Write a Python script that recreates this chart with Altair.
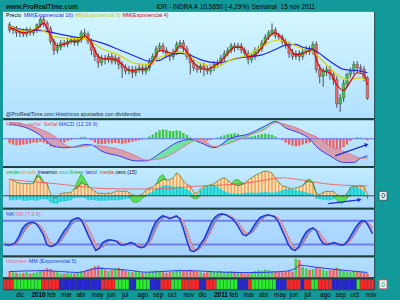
import altair as alt
import pandas as pd

# ---------------- data (weekly) ----------------
FIRST_WEEK = "2009-11-09 12:00"   # centre of first weekly bar
N_WEEKS = 106

opens = [15.2, 14.8, 14.9, 14.6, 14.7, 14.5, 14.8, 14.6, 14.8, 15.2,
         15.6, 15.3, 14.9, 14.0, 13.4, 13.6, 13.9, 13.8, 14.0, 14.1,
         13.9, 14.1, 14.6, 14.5, 14.0, 13.4, 13.0, 12.6, 12.9, 12.8,
         13.0, 12.7, 12.9, 12.5, 12.3, 12.1, 12.2, 12.0, 12.2, 12.3,
         12.1, 12.3, 12.7, 13.0, 13.5, 13.7, 13.4, 13.1, 13.0, 13.3,
         13.8, 13.9, 13.5, 13.0, 12.6, 12.3, 12.2, 12.4, 12.2, 12.1,
         12.3, 12.5, 12.6, 12.9, 13.2, 13.4, 13.7, 13.6, 13.7, 13.4,
         13.2, 12.8, 13.0, 13.4, 13.5, 13.9, 14.3, 14.6, 14.8, 14.4,
         14.3, 14.0, 13.8, 13.2, 13.0, 13.2, 13.0, 13.3, 13.5, 13.3,
         13.8, 12.2, 11.8, 12.1, 12.2, 11.9, 11.6, 10.3, 10.6, 11.4,
         11.9, 12.1, 12.5, 12.3, 12.2, 11.7]
highs = [15.4, 15.1, 15.1, 14.9, 14.9, 15.0, 15.0, 14.9, 15.3, 15.8,
         15.9, 15.5, 15.1, 14.2, 13.9, 14.1, 14.1, 14.2, 14.3, 14.3,
         14.3, 14.8, 14.9, 14.7, 14.2, 13.6, 13.2, 13.1, 13.1, 13.2,
         13.2, 13.1, 13.0, 12.7, 12.5, 12.4, 12.4, 12.4, 12.5, 12.5,
         12.5, 12.9, 13.2, 13.7, 13.9, 13.9, 13.6, 13.3, 13.5, 14.0,
         14.1, 14.1, 13.7, 13.2, 12.8, 12.5, 12.6, 12.6, 12.4, 12.5,
         12.7, 12.8, 13.1, 13.4, 13.6, 13.9, 13.9, 13.9, 13.9, 13.6,
         13.4, 13.2, 13.6, 13.7, 14.1, 14.5, 14.8, 15.3, 15.0, 14.6,
         14.5, 14.2, 14.0, 13.5, 13.4, 13.4, 13.5, 13.7, 13.7, 14.0,
         14.0, 12.5, 12.3, 12.4, 12.4, 12.1, 11.8, 10.8, 11.6, 12.0,
         12.3, 12.7, 12.7, 12.5, 12.4, 11.8]
lows = [14.6, 14.5, 14.3, 14.3, 14.3, 14.3, 14.4, 14.4, 14.6, 15.0,
        15.0, 14.7, 13.8, 13.1, 13.2, 13.4, 13.6, 13.6, 13.8, 13.7,
        13.7, 13.9, 14.2, 13.8, 13.1, 12.7, 12.3, 12.4, 12.5, 12.6,
        12.5, 12.5, 12.2, 11.7, 11.9, 11.9, 11.7, 11.8, 12.0, 11.9,
        11.9, 12.1, 12.5, 12.8, 13.3, 13.2, 12.9, 12.7, 12.8, 13.1,
        13.5, 13.3, 12.8, 11.9, 12.1, 12.0, 12.0, 11.8, 11.9, 11.9,
        12.1, 12.3, 12.4, 12.7, 13.0, 13.2, 13.3, 13.4, 13.2, 13.0,
        12.5, 12.6, 12.8, 13.2, 13.3, 13.7, 14.1, 14.4, 14.2, 14.1,
        13.8, 13.5, 12.9, 12.8, 12.8, 12.7, 12.8, 13.1, 13.1, 13.1,
        12.0, 11.4, 11.2, 11.8, 11.6, 11.3, 10.1, 9.9, 10.4, 11.2,
        11.7, 11.9, 12.0, 12.0, 11.5, 10.5]
closes = [14.8, 14.9, 14.6, 14.7, 14.5, 14.8, 14.6, 14.8, 15.2, 15.6,
          15.3, 14.9, 14.0, 13.4, 13.6, 13.9, 13.8, 14.0, 14.1, 13.9,
          14.1, 14.6, 14.5, 14.0, 13.4, 13.0, 12.6, 12.9, 12.8, 13.0,
          12.7, 12.9, 12.5, 12.3, 12.1, 12.2, 12.0, 12.2, 12.3, 12.1,
          12.3, 12.7, 13.0, 13.5, 13.7, 13.4, 13.1, 13.0, 13.3, 13.8,
          13.9, 13.5, 13.0, 12.6, 12.3, 12.2, 12.4, 12.2, 12.1, 12.3,
          12.5, 12.6, 12.9, 13.2, 13.4, 13.7, 13.6, 13.7, 13.4, 13.2,
          12.8, 13.0, 13.4, 13.5, 13.9, 14.3, 14.6, 14.8, 14.4, 14.3,
          14.0, 13.8, 13.2, 13.0, 13.2, 13.0, 13.3, 13.5, 13.3, 13.8,
          12.2, 11.8, 12.1, 12.2, 11.9, 11.6, 10.3, 10.6, 11.4, 11.9,
          12.1, 12.5, 12.3, 12.2, 11.7, 10.585]

ema16_weeks = [0, 5, 8, 13, 18, 22, 27, 32, 37, 41, 44, 46, 50, 52, 56, 61, 67, 74,
               78, 81, 84, 86, 89, 94, 98, 103, 105]
ema16_vals = [15.1, 14.8, 14.8, 14.6, 14.35, 14.2, 13.9, 13.45, 13.0, 12.7, 12.75, 13.0,
              13.2, 13.15, 12.8, 12.6, 12.9, 13.1, 13.45, 13.75, 13.8, 13.6, 13.45,
              12.7, 12.2, 12.1, 12.0]
ema9_weeks = [0, 5, 8, 13, 18, 22, 27, 32, 37, 41, 43, 46, 50, 53, 56, 61, 65, 70, 75,
              79, 82, 86, 89, 92, 96, 99, 103, 105]
ema9_vals = [15.1, 14.7, 14.9, 14.35, 14.2, 14.2, 13.5, 13.1, 12.55, 12.5, 12.8, 13.1,
             13.3, 13.0, 12.55, 12.4, 12.8, 13.1, 13.8, 14.1, 13.9, 13.5, 13.3, 12.7,
             11.9, 11.6, 11.7, 11.5]
ema4_weeks = [0, 2, 4, 6, 8, 10, 12, 14, 16, 18, 20, 22, 24, 26, 28, 30, 32, 34, 36,
              38, 40, 42, 44, 46, 48, 50, 52, 54, 56, 58, 60, 62, 64, 66, 68, 70, 72,
              74, 76, 78, 80, 82, 84, 86, 88, 89, 90, 92, 94, 96, 98, 100, 102, 104, 105]
ema4_vals = [15.0, 14.8, 14.6, 14.7, 14.9, 15.3, 14.4, 13.7, 13.8, 14.0, 14.0, 14.4,
             13.9, 13.0, 12.85, 12.85, 12.7, 12.3, 12.1, 12.2, 12.2, 12.7, 13.4, 13.3,
             13.2, 13.7, 13.3, 12.6, 12.3, 12.2, 12.4, 12.7, 13.2, 13.6, 13.6, 13.0,
             13.1, 13.6, 14.3, 14.6, 14.2, 13.6, 13.1, 13.2, 13.4, 13.5, 12.8, 12.1,
             12.0, 11.3, 11.0, 11.5, 12.0, 11.9, 11.3]

macd_hist = [-0.12, -0.15, -0.17, -0.16, -0.15, -0.14, -0.12, -0.10, -0.10, -0.08,
             -0.10, -0.14, -0.20, -0.22, -0.20, -0.15, -0.10, -0.06, -0.03, -0.01,
             0.02, 0.04, 0.05, 0.02, -0.04, -0.10, -0.14, -0.14, -0.13, -0.12,
             -0.12, -0.11, -0.12, -0.13, -0.12, -0.10, -0.08, -0.06, -0.04, -0.02,
             0.02, 0.06, 0.11, 0.17, 0.22, 0.24, 0.23, 0.20, 0.20, 0.22,
             0.20, 0.15, 0.10, 0.04, -0.02, -0.05, -0.06, -0.07, -0.05, -0.03,
             0.00, 0.03, 0.06, 0.09, 0.12, 0.13, 0.14, 0.13, 0.10, 0.07,
             0.05, 0.06, 0.08, 0.10, 0.12, 0.13, 0.12, 0.10, 0.06, 0.01,
             -0.04, -0.10, -0.15, -0.18, -0.20, -0.18, -0.15, -0.12, -0.10, -0.08,
             -0.15, -0.22, -0.24, -0.22, -0.20, -0.25, -0.28, -0.27, -0.22, -0.15,
             -0.06, 0.02, 0.04, 0.03, -0.01, -0.04]
macd_weeks = [0, 5, 8, 13, 16, 19, 22, 24, 27, 32, 37, 40, 45, 49, 53, 56, 60, 65, 70,
              75, 78, 81, 85, 88, 90, 94, 98, 101, 103, 105]
macd_line = [0.37, 0.28, 0.15, -0.19, -0.23, -0.21, -0.15, -0.16, -0.32, -0.44, -0.57,
             -0.57, -0.32, -0.10, -0.02, -0.10, -0.23, 0.02, 0.12, 0.33, 0.45, 0.28,
             0.15, 0.00, -0.20, -0.44, -0.61, -0.61, -0.50, -0.44]
macd_signal = [0.42, 0.36, 0.28, 0.07, -0.15, -0.22, -0.20, -0.17, -0.19, -0.27, -0.44,
               -0.55, -0.50, -0.32, -0.10, 0.00, -0.20, -0.10, 0.08, 0.25, 0.41, 0.37,
               0.25, 0.12, 0.05, -0.19, -0.32, -0.44, -0.50, -0.50]
macd_arrow_weeks = [95.5, 104.6]
macd_arrow_vals = [-0.44, -0.16]

osc_vals = [75, 70, 59, 57, 53, 55, 53, 55, 88, 80,
            60, 55, 5, -10, -5, 10, 13, 13, 15, 30,
            35, 60, 50, 47, 30, 20, 10, 12, 8, 13,
            10, 20, 22, 18, 22, 15, 5, 0, 2, 8,
            25, 35, 38, 53, 60, 75, 70, 72, 80, 102,
            90, 66, 50, 44, 15, 10, 30, 40, 44, 50,
            53, 66, 75, 80, 70, 55, 50, 45, 50, 55,
            70, 80, 90, 97, 105, 110, 108, 100, 80, 60,
            44, 40, 35, 30, 35, 40, 45, 60, 66, 55,
            9, 5, 15, 20, 18, 20, 5, 0, -5, 10,
            35, 44, 40, 44, 40, 5]
cyan_vals = [-20, -20, -18, -15, -22, -22, -20, -20, -22, -15,
             -15, -15, -30, -35, -35, -25, -25, -22, -20, -10,
             -10, -8, -10, -18, -18, -20, -22, -22, -22, -20,
             -20, -20, -20, -18, -15, -12, -10, -10, -8, -5,
             5, 10, 20, 30, 40, 45, 48, 45, 40, 40,
             40, 35, 30, 20, 5, 0, 25, 35, 40, 45,
             48, 40, 30, 20, 15, 10, 10, 8, 10, 12,
             15, 15, 12, 15, 15, 18, 15, 15, 15, 20,
             25, 30, 30, 28, 25, 22, 20, 15, 12, 10,
             -13, -15, -18, -20, -20, -15, -10, -5, -5, 10,
             40, 44, 40, 30, 20, -15]
media_weeks = [0, 14, 28, 42, 56, 65, 72, 80, 86, 92, 98, 105]
media_vals = [72, 53, 32, 30, 44, 50, 62, 80, 70, 55, 47, 44]
green_group = ["a"] * 4 + ["b"] * 5 + ["c"] * 6 + ["d"] * 4 + ["e"] * 4 + ["f"] * 5 + ["g"] * 5 + ["h"] * 6
green_weeks = [7, 8, 9, 10, 19, 20, 21, 22, 23, 35, 36, 37, 38, 39, 40, 43, 44, 45, 46,
               53, 54, 55, 56, 65, 66, 67, 68, 69, 86, 87, 88, 89, 90, 95, 96, 97, 98, 99, 100]
green_lo = [55, 88, 80, 60, 30, 35, 60, 50, 47, 0, -25, -31, -25, -10, 0, 53, 60, 75, 70,
            0, -13, -13, 0, 55, 50, 45, 50, 55, 45, 60, 66, 55, 9, 0, -20, -35, -30, -10, 0]
green_hi = [55, 95, 88, 60, 30, 70, 97, 75, 47, 0, 0, 0, 0, 0, 0, 53, 85, 95, 70,
            0, 0, 0, 0, 55, 70, 72, 60, 55, 45, 68, 75, 60, 9, 0, 0, 0, 0, 0, 0]
osc_arrow_weeks = [93.5, 102.5]
osc_arrow_vals = [-35, -18]

stoch_k = [20, 18, 20, 25, 40, 60, 70, 75, 76, 72,
           60, 45, 20, 15, 17, 25, 40, 55, 65, 80,
           85, 87, 80, 60, 40, 22, 5, 10, 25, 30,
           32, 30, 28, 20, 18, 22, 25, 22, 15, 12,
           15, 30, 55, 75, 85, 92, 90, 85, 88, 92,
           85, 60, 30, 5, 2, 8, 22, 35, 55, 75,
           88, 95, 97, 95, 90, 85, 75, 60, 45, 42,
           50, 65, 78, 88, 92, 95, 93, 90, 80, 60,
           40, 20, 8, 5, 15, 35, 50, 58, 62, 55,
           35, 22, 20, 22, 25, 22, 18, 20, 30, 45,
           60, 72, 80, 78, 65, 47]
stoch_d = [25, 22, 19, 21, 28, 42, 57, 68, 74, 74,
           69, 59, 42, 27, 17, 19, 27, 40, 53, 67,
           77, 84, 84, 76, 60, 41, 22, 12, 13, 22,
           29, 31, 30, 26, 22, 20, 22, 23, 21, 17,
           14, 19, 33, 53, 72, 84, 89, 89, 88, 88,
           88, 79, 58, 32, 12, 5, 11, 22, 37, 55,
           73, 86, 93, 96, 94, 90, 83, 73, 60, 49,
           46, 52, 64, 77, 86, 92, 93, 93, 88, 77,
           60, 40, 23, 11, 9, 18, 33, 48, 57, 58,
           51, 37, 26, 21, 22, 23, 22, 20, 23, 32,
           45, 59, 72, 77, 74, 63]

volume_m = [5, 4, 3.5, 3, 3.5, 4, 3, 3.5, 4, 5,
            6, 7, 6.5, 5, 4, 3, 3, 3.5, 3, 3,
            4, 4.5, 5, 6, 7, 8.5, 9, 8, 6, 5,
            6, 7, 7.5, 6.5, 5, 4.5, 4, 5, 4, 3.5,
            3.5, 4, 5, 5.5, 4.5, 4, 3.5, 4, 4.5, 5,
            6, 5, 5.5, 6, 5, 4.5, 4, 3.5, 4, 4.5,
            4, 4.5, 5, 4, 4.5, 5, 4.5, 4, 3.5, 3,
            3.5, 4, 5, 5.5, 5, 6, 5.5, 5, 4.5, 4,
            4, 4.5, 5, 4.5, 14.5, 13.5, 8, 7, 6, 6.5,
            8, 7, 6, 5, 5.5, 6, 7.5, 6.5, 5, 4.5,
            4, 5, 4.5, 4, 3.5, 3]
vol_ema_weeks = [0, 10, 15, 20, 26, 30, 35, 40, 50, 55, 60, 70, 80, 84, 85, 88, 90, 95, 100, 105]
vol_ema_vals = [4.5, 5.2, 4.5, 3.8, 7, 6.5, 5.5, 4, 5.2, 5, 4.3, 3.7, 4.5, 7, 9.5, 8.5, 7.8, 6.3, 5, 3.8]

strip_codes = list("RRRGGGGGGGGRRRRRBBBBBBBBBBBBRRRRGGGGBBGGGGBBBRRRGGGRRRRR"
                   "BBRRRGGGGGGBBBRGGGGGGGBBBRRRRBRRGGRRRRBBBBBBBGRRRR")

month_names = ["ene", "feb", "mar", "abr", "may", "jun", "jul", "ago", "sep", "oct", "nov", "dic"]

# ---------------- helpers ----------------
FONT = "Liberation Sans"
TEAL = "#129a9a"
SEP = "#243c3c"
W = 373
H_PRICE, H_MACD, H_OSC, H_STO, H_VOL, H_STRIP = 107, 46, 40, 46, 20, 10
UP, DOWN = "#3fc63f", "#ec6a6a"
LEG = 5.4

t0 = pd.Timestamp(FIRST_WEEK)


def to_dates(weeks):
    return [(t0 + pd.Timedelta(days=7 * w)).strftime("%Y-%m-%dT%H:%M:%S") for w in weeks]


XS = alt.Scale(domain=[alt.DateTime(year=2009, month=11, date=6),
                       alt.DateTime(year=2011, month=11, date=18)])


def X():
    return alt.X("date:T", scale=XS, axis=None)


def raxis(values, expr=None):
    kw = dict(orient="right", values=values, tickSize=3, tickColor="#1d3434",
              domainColor="#1d3434", labelColor="#061818", labelFontSize=7.5,
              labelFont=FONT, labelPadding=2, grid=False, title=None,
              minExtent=25, maxExtent=25, labelOverlap=False, labelBound=False,
              labelFlush=False)
    if expr:
        kw["labelExpr"] = expr
    return alt.Axis(**kw)


def bg(h, top, bottom):
    return alt.Chart(pd.DataFrame({"k": [0]})).mark_rect(
        color=alt.Gradient(gradient="linear",
                           stops=[alt.GradientStop(color=top, offset=0),
                                  alt.GradientStop(color=bottom, offset=1)],
                           x1=0, x2=0, y1=0, y2=1)
    ).encode(x=alt.value(0), x2=alt.value(W), y=alt.value(0), y2=alt.value(h))


def sep(h):
    # dark separator band under a panel (fills the gap between panels)
    return alt.Chart(pd.DataFrame({"k": [0]})).mark_rect(color=SEP).encode(
        x=alt.value(0), x2=alt.value(W), y=alt.value(h), y2=alt.value(h + 2))


def txt(s, x, y, color, size=LEG, weight="normal"):
    return alt.Chart(pd.DataFrame({"t": [s]})).mark_text(
        align="left", baseline="middle", font=FONT, fontSize=size,
        fontWeight=weight, color=color
    ).encode(x=alt.value(x), y=alt.value(y), text="t:N")


def badge(s, yc, border, color):
    # small boxed current-value marker beside the right axis
    box = alt.Chart(pd.DataFrame({"k": [0]})).mark_rect(
        color="#eef4f4", stroke=border, strokeWidth=0.8).encode(
        x=alt.value(W + 5), x2=alt.value(W + 13), y=alt.value(yc - 4.5), y2=alt.value(yc + 4.5))
    lab = alt.Chart(pd.DataFrame({"t": [s]})).mark_text(
        align="center", baseline="middle", font=FONT, fontSize=7, color=color).encode(
        x=alt.value(W + 9), y=alt.value(yc + 0.5), text="t:N")
    return box + lab


def spacer(x1, x2, y1, y2):
    return alt.Chart(pd.DataFrame({"k": [0]})).mark_rect(opacity=0).encode(
        x=alt.value(x1), x2=alt.value(x2), y=alt.value(y1), y2=alt.value(y2))


wk = list(range(N_WEEKS))

# ---------------- price panel ----------------
pdf = pd.DataFrame({"date": to_dates(wk), "open": opens, "high": highs,
                    "low": lows, "close": closes})
ys_p = alt.Scale(type="log", domain=[9.6, 16.2])
wicks = alt.Chart(pdf).mark_rule(color="#2a2a2a", strokeWidth=0.8).encode(
    x=X(), y=alt.Y("low:Q", scale=ys_p, axis=raxis([10, 11, 12, 13, 14, 15, 16])),
    y2="high:Q")
bodies = alt.Chart(pdf).mark_bar(size=2.6, stroke="#3a3a3a", strokeWidth=0.4).encode(
    x=X(), y=alt.Y("open:Q", scale=ys_p, axis=None), y2="close:Q",
    color=alt.condition("datum.close >= datum.open", alt.value(UP), alt.value(DOWN)))


def pline(weeks, vals, color):
    d = pd.DataFrame({"date": to_dates(weeks), "v": vals})
    return alt.Chart(d).mark_line(color=color, strokeWidth=1.2, interpolate="monotone").encode(
        x=X(), y=alt.Y("v:Q", scale=ys_p, axis=None))


price = alt.layer(
    spacer(-2, W + 25, -10, H_PRICE),
    bg(H_PRICE, "#d3f7ff", "#b2e0ff"),
    sep(H_PRICE),
    wicks, bodies,
    pline(ema16_weeks, ema16_vals, "#2525e6"),
    pline(ema9_weeks, ema9_vals, "#d9d400"),
    pline(ema4_weeks, ema4_vals, "#e00000"),
    txt("www.ProRealTime.com", 3, -5, "#0a1a1a", 6.6, "bold"),
    txt("IDR - INDRA A", 154, -5, "#000000", 6.4),
    txt("10,5850 (-4,29%)", 198, -5, "#000000", 6.4),
    txt("Semanal", 250, -5, "#000000", 6.4),
    txt("15 nov 2011", 279, -5, "#000000", 6.4),
    txt("Precio", 3, 3.5, "#000000"),
    txt("MM(Exponencial 16)", 21, 3.5, "#2525e6"),
    txt("MM(Exponencial 9)", 72, 3.5, "#c9c400"),
    txt("MM(Exponencial 4)", 120, 3.5, "#e00000"),
    txt("@ProRealTime.com  Históricos ajustados con dividendos", 3, 103, "#203838", 5.4),
).properties(width=W, height=H_PRICE)

# ---------------- MACD panel ----------------
ys_m = alt.Scale(domain=[-0.70, 0.48])
hdf = pd.DataFrame({"date": to_dates(wk), "hist": macd_hist})
mdf = pd.DataFrame({"date": to_dates(macd_weeks), "macd": macd_line, "sig": macd_signal})
hist = alt.Chart(hdf).mark_bar(size=2.3).encode(
    x=X(), y=alt.Y("hist:Q", scale=ys_m,
                   axis=raxis([-0.6, -0.4, -0.2, 0, 0.2, 0.4],
                              "datum.value == 0 ? '0' : replace(format(datum.value, '.1f'), '.', ',')")),
    color=alt.condition("datum.hist >= 0", alt.value("#3cc83c"), alt.value("#ee5f5f")))
m_pink = alt.Chart(mdf).transform_calculate(hi="max(datum.macd, datum.sig)").mark_area(
    color="#d6a0b0", interpolate="monotone").encode(
    x=X(), y=alt.Y("macd:Q", scale=ys_m, axis=None), y2="hi:Q")
m_green = alt.Chart(mdf).transform_calculate(hi="max(datum.macd, datum.sig)").mark_area(
    color="#72e2a6", interpolate="monotone").encode(
    x=X(), y=alt.Y("sig:Q", scale=ys_m, axis=None), y2="hi:Q")
m_zero = alt.Chart(pd.DataFrame({"z": [0]})).mark_rule(color="#6a76e6", strokeWidth=1).encode(
    y=alt.Y("z:Q", scale=ys_m, axis=None))
m_line = alt.Chart(mdf).mark_line(color="#3a3af0", strokeWidth=1, interpolate="monotone").encode(
    x=X(), y=alt.Y("macd:Q", scale=ys_m, axis=None))
s_line = alt.Chart(mdf).mark_line(color="#e07890", strokeWidth=1, interpolate="monotone").encode(
    x=X(), y=alt.Y("sig:Q", scale=ys_m, axis=None))
adf = pd.DataFrame({"date": to_dates(macd_arrow_weeks), "v": macd_arrow_vals})
m_arrow = alt.Chart(adf).mark_line(color="#1a2ee0", strokeWidth=1.3).encode(
    x=X(), y=alt.Y("v:Q", scale=ys_m, axis=None))
m_head = alt.Chart(adf.tail(1)).mark_point(shape="triangle", angle=71, size=22, filled=True,
                                           color="#1a2ee0", opacity=1).encode(
    x=X(), y=alt.Y("v:Q", scale=ys_m, axis=None))
macd = alt.layer(
    bg(H_MACD, "#c4eeff", "#aedcff"),
    sep(H_MACD),
    hist, m_pink, m_green, m_zero, m_line, s_line, m_arrow, m_head,
    txt("MACD- , señal", 3, 4, "#d86a86"),
    txt("Señal", 41, 4, "#e04848"),
    txt("MACD (12 26 9)", 56, 4, "#3a3af0"),
).properties(width=W, height=H_MACD)

# ---------------- oscillator panel ----------------
ys_o = alt.Scale(domain=[-53, 124])
odf = pd.DataFrame({"date": to_dates(wk), "osc": osc_vals, "cy": cyan_vals})
o_fill = alt.Chart(odf).mark_area(color="#fbe0b8").encode(
    x=X(), y=alt.Y("osc:Q", scale=ys_o, axis=raxis([-50, 0, 50, 100])))
o_bars = alt.Chart(odf).mark_bar(size=1.5, color="#eea45c").encode(
    x=X(), y=alt.Y("osc:Q", scale=ys_o, axis=None))
c_fill = alt.Chart(odf).mark_area(color="#3ee0e6").encode(
    x=X(), y=alt.Y("cy:Q", scale=ys_o, axis=None))
c_bars = alt.Chart(odf).mark_bar(size=1.2, color="#1ec0c8").encode(
    x=X(), y=alt.Y("cy:Q", scale=ys_o, axis=None))
gdf = pd.DataFrame({"date": to_dates(green_weeks), "lo": green_lo, "hi": green_hi, "g": green_group})
g_fill = alt.Chart(gdf).mark_area(color="#58e058", stroke="#2e9a2e", strokeWidth=0.6).encode(
    x=X(), y=alt.Y("lo:Q", scale=ys_o, axis=None), y2="hi:Q", detail="g:N")
o_line = alt.Chart(odf).mark_line(color="#6b7a30", strokeWidth=0.8).encode(
    x=X(), y=alt.Y("osc:Q", scale=ys_o, axis=None))
o_zero = alt.Chart(pd.DataFrame({"z": [0]})).mark_rule(color="#202020", strokeWidth=0.8).encode(
    y=alt.Y("z:Q", scale=ys_o, axis=None))
medf = pd.DataFrame({"date": to_dates(media_weeks), "v": media_vals})
o_media = alt.Chart(medf).mark_line(color="#ff4a4a", strokeWidth=0.8, interpolate="monotone").encode(
    x=X(), y=alt.Y("v:Q", scale=ys_o, axis=None))
oadf = pd.DataFrame({"date": to_dates(osc_arrow_weeks), "v": osc_arrow_vals})
o_arrow = alt.Chart(oadf).mark_line(color="#1a2ee0", strokeWidth=1.3).encode(
    x=X(), y=alt.Y("v:Q", scale=ys_o, axis=None))
o_head = alt.Chart(oadf.tail(1)).mark_point(shape="triangle", angle=82, size=22, filled=True,
                                            color="#1a2ee0", opacity=1).encode(
    x=X(), y=alt.Y("v:Q", scale=ys_o, axis=None))
osc_zero_px = H_OSC * (124 - 0) / (124 + 53)
osc = alt.layer(
    bg(H_OSC, "#c2ecff", "#aad8ff"),
    sep(H_OSC),
    o_fill, o_bars, c_fill, c_bars, g_fill, o_zero, o_line, o_media, o_arrow, o_head,
    badge("0", osc_zero_px, "#304848", "#101010"),
    txt("verde", 3, 4, "#22aa22"),
    txt("dorado", 17, 4, "#e09a30"),
    txt("lnearron", 35, 4, "#111111"),
    txt("azul", 56, 4, "#10c0d0"),
    txt("lineav", 67, 4, "#22aa22"),
    txt("lazul", 83, 4, "#2a2ae0"),
    txt("media", 97, 4, "#ee3030"),
    txt("cero (15)", 113, 4, "#111111"),
).properties(width=W, height=H_OSC)

# ---------------- stochastic panel ----------------
ys_s = alt.Scale(domain=[-7.5, 107.5])
sdf = pd.DataFrame({"date": to_dates(wk), "k": stoch_k, "d": stoch_d})
s_rules = alt.Chart(pd.DataFrame({"lv": [20, 80]})).mark_rule(color="#6e7eea", strokeWidth=2).encode(
    y=alt.Y("lv:Q", scale=ys_s, axis=raxis([0, 20, 40, 60, 80, 100])))
s_pink = alt.Chart(sdf).transform_calculate(hi="max(datum.k, datum.d)").mark_area(
    color="#c8a4bc").encode(x=X(), y=alt.Y("k:Q", scale=ys_s, axis=None), y2="hi:Q")
s_blue = alt.Chart(sdf).transform_calculate(hi="max(datum.k, datum.d)").mark_area(
    color="#7890cc").encode(x=X(), y=alt.Y("d:Q", scale=ys_s, axis=None), y2="hi:Q")
s_d = alt.Chart(sdf).mark_line(color="#e86a6a", strokeWidth=1.2, strokeDash=[1.5, 1.5]).encode(
    x=X(), y=alt.Y("d:Q", scale=ys_s, axis=None))
s_k = alt.Chart(sdf).mark_line(color="#1c3ad4", strokeWidth=1.5).encode(
    x=X(), y=alt.Y("k:Q", scale=ys_s, axis=None))
sto = alt.layer(
    bg(H_STO, "#b2dcff", "#a6d2ff"),
    sep(H_STO),
    s_rules, s_pink, s_blue, s_d, s_k,
    txt("%K", 3, 4, "#2a3ae0"),
    txt("%D (7 3 5)", 12, 4, "#e06a80"),
).properties(width=W, height=H_STO)

# ---------------- volume panel ----------------
ys_v = alt.Scale(domain=[0, 15.4e6])
vdf = pd.DataFrame({"date": to_dates(wk), "vol": [v * 1e6 for v in volume_m],
                    "open": opens, "close": closes})
v_bars = alt.Chart(vdf).mark_bar(size=2.6).encode(
    x=X(), y=alt.Y("vol:Q", scale=ys_v, axis=raxis([10e6], "'10M'")),
    color=alt.condition("datum.close >= datum.open", alt.value("#44d044"), alt.value("#f06464")))
vedf = pd.DataFrame({"date": to_dates(vol_ema_weeks), "v": [v * 1e6 for v in vol_ema_vals]})
v_ema = alt.Chart(vedf).mark_line(color="#2a3ae0", strokeWidth=1, interpolate="monotone").encode(
    x=X(), y=alt.Y("v:Q", scale=ys_v, axis=None))
vol = alt.layer(
    bg(H_VOL, "#b6e0ff", "#a8d6ff"),
    sep(H_VOL),
    v_bars, v_ema,
    txt("Volumen", 3, 4, "#e07080"),
    txt("MM (Exponencial 5)", 26, 4, "#2a3ae0"),
).properties(width=W, height=H_VOL)

# ---------------- colour strip + time axis ----------------
strip_df = pd.DataFrame({
    "date": to_dates([w - 0.5 for w in wk]),
    "end": to_dates([w + 0.5 for w in wk]),
    "code": strip_codes,
})
month_ticks = []
for y, m in [(2009, 12)] + [(2010, mm) for mm in range(1, 13)] + [(2011, mm) for mm in range(1, 12)]:
    month_ticks.append(alt.DateTime(year=y, month=m, date=1))
label_expr = ("month(datum.value) == 0 ? timeFormat(datum.value, '%Y') : "
              "['" + "','".join(month_names) + "'][month(datum.value)]")
xaxis = alt.Axis(orient="bottom", values=month_ticks, labelExpr=label_expr,
                 labelAlign="left", labelBaseline="top", labelPadding=2, tickSize=0,
                 domain=False, grid=False, labelFontSize=6.4, labelColor="#000000",
                 labelFont=FONT, labelOverlap=False, labelBound=False, labelFlush=False,
                 labelFontWeight={"condition": {"test": "month(datum.value) == 0", "value": "bold"},
                                  "value": "normal"},
                 title=None, minExtent=11, maxExtent=11)
strip_rect = alt.Chart(strip_df).mark_rect(stroke="#404060", strokeWidth=0.3).encode(
    x=alt.X("date:T", scale=XS, axis=xaxis), x2="end:T",
    y=alt.value(0), y2=alt.value(H_STRIP),
    color=alt.Color("code:N", scale=alt.Scale(domain=["R", "G", "B"],
                                              range=["#ff2626", "#26f026", "#2424d8"]),
                    legend=None))
strip = alt.layer(
    spacer(-2, W + 25, 0, H_STRIP + 11),
    strip_rect,
    badge("0", H_STRIP / 2, "#e04050", "#20b020"),
).properties(width=W, height=H_STRIP)

chart = alt.vconcat(price, macd, osc, sto, vol, strip, spacing=2, bounds="flush").resolve_scale(
    y="independent", color="independent"
).properties(
    padding={"left": 0, "top": 0, "right": 0, "bottom": 0}
).configure(background=TEAL).configure_view(stroke="#1a3a3a", strokeWidth=1)

chart.save("out.html", embed_options={"renderer": "svg", "actions": False})
